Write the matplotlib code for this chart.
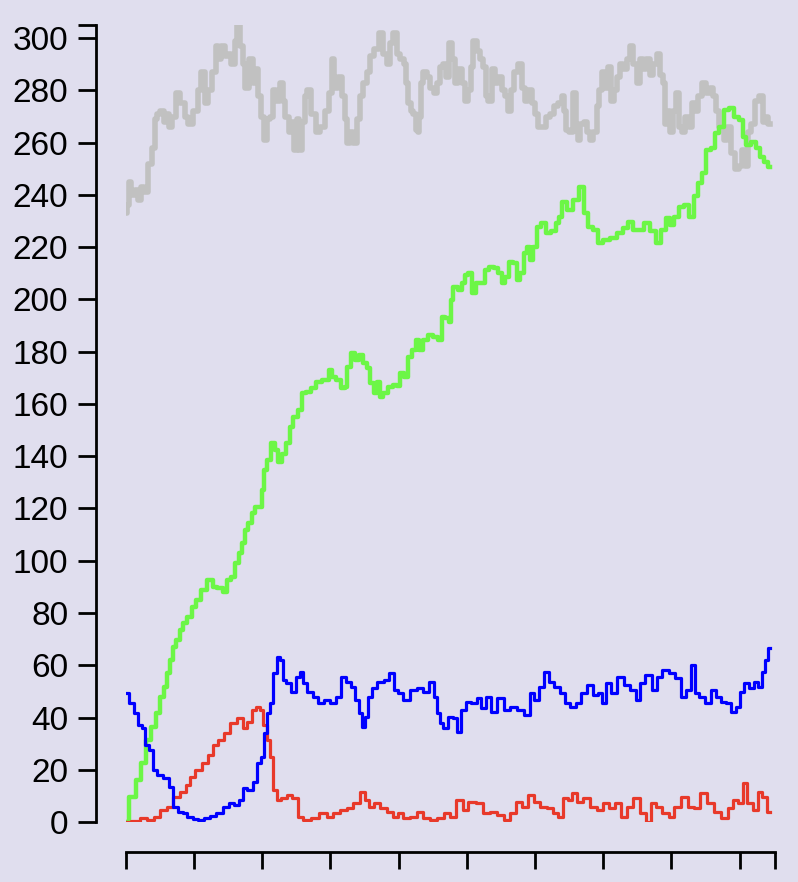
import matplotlib
matplotlib.use("Agg")
import matplotlib.pyplot as plt

# four random-walk like series, x = step, y = level
gray_x = [0, 3, 6, 11, 15, 21, 25, 30, 36, 40, 46, 47, 53, 58, 62, 66, 71, 77, 83, 90,
          94, 102, 109, 113, 119, 123, 131, 134, 138, 142, 148, 153, 157, 163, 164, 170,
          173, 178, 185, 187, 192, 197, 201, 204, 209, 214, 219, 223, 229, 231, 236, 244,
          245, 248, 253, 256, 260, 266, 267, 275, 282, 288, 295, 300, 304, 308, 314, 319,
          324, 326, 331, 336, 341, 346, 351, 356, 361, 368, 375, 380, 385, 390, 395, 400,
          405, 410, 412, 417, 419, 424, 427, 429, 432, 434, 439, 444, 449, 454, 458, 463,
          468, 471, 477, 481, 485, 490, 495, 499, 505, 507, 512, 517, 522, 527, 529, 534,
          539, 544, 549, 554, 559, 563, 567, 573, 578, 583, 588, 593, 598, 603, 607, 612,
          620, 625, 632, 637, 642, 644, 647, 652, 659, 661, 664, 669, 674, 678, 683, 688,
          693, 696, 700, 705, 709, 713, 718, 722, 727, 732, 737, 742, 747, 752, 757, 761,
          766, 771, 776, 781, 786, 789, 791, 796, 801, 805, 810, 813, 818, 823, 828, 832,
          837, 842, 849, 854, 859, 864, 867, 874, 879, 884, 891, 896, 901, 906, 911, 915,
          920, 925, 933, 935, 940, 944]
gray_y = [233, 236, 245, 240, 242, 238, 243, 241, 252, 258, 269, 271, 272, 268, 271, 266,
          270, 279, 275, 270, 267, 272, 280, 287, 275, 280, 287, 297, 292, 297, 293, 294,
          290, 299, 305, 297, 290, 281, 292, 283, 288, 278, 270, 261, 269, 270, 280, 276,
          283, 276, 270, 264, 268, 257, 269, 257, 268, 278, 280, 271, 264, 266, 272, 279,
          292, 281, 285, 278, 269, 260, 264, 260, 269, 278, 283, 287, 293, 296, 302, 294,
          290, 298, 302, 294, 292, 290, 283, 275, 272, 271, 265, 264, 270, 283, 287, 285,
          281, 279, 283, 289, 290, 285, 298, 292, 283, 288, 283, 276, 280, 289, 299, 295,
          292, 289, 278, 276, 288, 283, 285, 280, 278, 272, 280, 287, 290, 281, 276, 280,
          275, 271, 266, 266, 270, 271, 274, 275, 278, 272, 265, 264, 279, 265, 261, 267,
          268, 264, 261, 264, 274, 280, 287, 281, 289, 276, 280, 285, 290, 288, 292, 297,
          290, 283, 292, 288, 292, 286, 290, 294, 286, 283, 267, 272, 264, 272, 279, 266,
          264, 270, 266, 275, 272, 278, 283, 279, 281, 278, 272, 266, 261, 266, 256, 250,
          251, 257, 251, 264, 267, 276, 278, 268, 270, 267]

green_x = [0, 11, 19, 26, 33, 41, 48, 53, 58, 63, 67, 72, 77, 82, 87, 94, 99, 107, 114,
           124, 131, 138, 146, 150, 158, 163, 168, 172, 177, 182, 187, 192, 197, 202, 204,
           209, 216, 221, 226, 231, 238, 243, 248, 256, 260, 268, 275, 282, 295, 300, 304,
           312, 319, 324, 326, 334, 339, 346, 351, 356, 361, 366, 370, 375, 380, 388, 395,
           400, 405, 412, 417, 424, 427, 434, 439, 446, 454, 461, 466, 471, 476, 478, 483,
           490, 495, 500, 505, 510, 517, 524, 529, 537, 544, 549, 554, 559, 564, 571, 576,
           581, 586, 590, 595, 600, 605, 612, 620, 627, 634, 637, 642, 652, 661, 669, 674,
           681, 688, 696, 705, 715, 725, 732, 740, 749, 757, 764, 774, 781, 788, 796, 801,
           808, 815, 823, 830, 835, 842, 849, 854, 862, 867, 874, 881, 889, 896, 903, 906,
           913, 920, 928, 933, 940, 944]
green_y = [0, 9.6, 16, 22.6, 31.4, 36.4, 41.7, 47.9, 51.7, 57, 62, 67, 69.7, 73.5, 76,
           78.5, 82.3, 85, 88.8, 92.6, 90, 89.6, 88, 92.6, 93.8, 99, 103, 106.8, 111.8,
           114.5, 118.3, 120.6, 120.6, 127, 134.7, 138.6, 145, 142.4, 137.9, 141, 145, 151,
           155, 157.7, 164, 164.6, 166, 168.5, 169, 173, 170.4, 169, 166, 166.5, 174,
           179.5, 177, 178.8, 175.7, 173.8, 168, 164.2, 168.4, 162.7, 164, 166.5, 167.3,
           167, 171.9, 170.4, 178, 180.7, 184.5, 180.7, 184.5, 186.4, 185.7, 184.5, 193.3,
           193, 191.4, 199.8, 204.8, 203.6, 206.3, 209.4, 210.2, 202.5, 206.3, 206.3,
           211.3, 212.5, 212, 210, 206.3, 208.6, 214.4, 214, 207.5, 210, 217.8, 220, 215,
           220, 227.8, 229.3, 225.5, 226, 229.3, 231.7, 237.4, 234.4, 238.2, 243, 233,
           227.8, 226.6, 221.6, 222.8, 223.5, 225.5, 227.4, 229.7, 226.6, 226.6, 229.3,
           226.2, 221.6, 226.6, 231.2, 228.5, 231.7, 235.5, 236.3, 231.7, 239.4, 244.6,
           248.4, 257.2, 258, 263.7, 266, 272.5, 273.3, 270, 268.7, 262.2, 259, 260.3, 258,
           254.6, 252.7, 250.7]

blue_x = [0, 9, 16, 21, 26, 31, 38, 43, 50, 60, 67, 72, 80, 87, 94, 102, 111, 119, 128,
          138, 148, 155, 163, 170, 175, 182, 190, 194, 202, 204, 209, 214, 219, 224, 229,
          231, 238, 246, 253, 258, 263, 270, 278, 287, 295, 304, 312, 319, 326, 334, 339,
          344, 348, 353, 358, 363, 373, 383, 390, 397, 402, 412, 422, 432, 441, 449, 454,
          458, 463, 468, 476, 483, 489, 495, 502, 512, 517, 524, 532, 539, 549, 559, 568,
          578, 590, 595, 603, 610, 617, 625, 632, 642, 647, 656, 664, 671, 681, 688, 696,
          700, 708, 715, 725, 735, 744, 752, 757, 766, 776, 783, 791, 801, 810, 818, 825,
          832, 837, 845, 854, 862, 869, 876, 884, 891, 898, 903, 911, 918, 925, 930, 935,
          940, 944]
blue_y = [49.4, 45.5, 41.7, 37, 36, 29.5, 27.6, 20, 18, 16.8, 13.4, 5.7, 3.8, 3.4, 1.9,
          1.1, 0.8, 1.5, 2.3, 3.4, 5.7, 7.2, 6.5, 8.4, 13, 12.2, 15.3, 22.6, 25, 34, 41.7,
          45.5, 57, 63.2, 62, 54.4, 53.2, 49.8, 55.5, 57.4, 53.2, 49.8, 47.9, 45.5, 46.7,
          45.5, 47.9, 55.5, 53.6, 51.7, 46.7, 41.7, 36.4, 40.2, 47.9, 51.3, 53.6, 54.4, 57,
          50.5, 49.4, 46.7, 50.5, 51.3, 49.8, 53.6, 47.9, 41.7, 37.9, 36, 40.2, 39.8, 34.5,
          42.9, 46, 45.5, 47.5, 43.6, 47.9, 42.1, 47.5, 42.9, 44, 42.9, 41, 49.4, 46.7,
          51.7, 57.4, 53.6, 51.7, 49.4, 45.5, 44, 45.5, 49.4, 52.4, 48.6, 49.4, 45.5, 53.2,
          49.4, 55.5, 52.4, 50.5, 46.7, 53.2, 56.3, 50.5, 55.5, 58.2, 57, 55.1, 47.9, 50.5,
          60.1, 49.4, 47.9, 45.5, 50.5, 47.9, 46, 45.5, 42.1, 44, 49.8, 53.2, 51.3, 53.6,
          51.7, 57.4, 62, 66.6]

red_x = [0, 16, 26, 36, 46, 55, 65, 75, 85, 92, 97, 107, 116, 124, 131, 141, 148, 158,
         168, 175, 182, 187, 194, 199, 204, 209, 214, 219, 224, 231, 241, 248, 256, 265,
         278, 290, 300, 309, 319, 329, 339, 348, 353, 361, 368, 378, 388, 397, 402, 412,
         422, 432, 441, 451, 461, 471, 480, 490, 498, 507, 520, 529, 539, 549, 559, 568,
         576, 586, 595, 603, 612, 622, 630, 639, 644, 652, 656, 666, 676, 686, 696, 703,
         713, 722, 730, 740, 749, 759, 766, 774, 781, 791, 801, 808, 820, 828, 837, 847,
         857, 867, 879, 886, 894, 901, 908, 915, 923, 930, 937, 944]
red_y = [0, 0.4, 1.5, 0.8, 2, 4.6, 5.7, 9.6, 11.5, 14.2, 17.2, 19.9, 22.6, 25.6, 29.5,
         31.4, 34, 37.9, 39.8, 36, 38.3, 42.9, 44, 42.9, 37.1, 31.4, 25, 12.2, 8.4, 9.2,
         10.3, 9.2, 1.9, 0.8, 1.5, 3.4, 1.9, 3.4, 4.6, 5.4, 7.2, 11.5, 8.4, 5.7, 7.2, 5.4,
         3.8, 1.9, 3.4, 1.5, 1.9, 3.8, 1.5, 0.8, 1.5, 3.4, 1.9, 8.4, 4.6, 7.7, 7.2, 3.4,
         3.8, 2.7, 0.8, 3.4, 7.7, 5.7, 10.3, 7.7, 5.7, 5.4, 3.4, 1.9, 9.2, 8.4, 11.1, 7.7,
         9.2, 5.7, 4.6, 7.2, 5.4, 7.2, 1.9, 5.7, 9.2, 3.4, 0, 7.2, 5.7, 3.4, 1.9, 5.7,
         9.6, 5.7, 5.4, 11.1, 7.2, 3.8, 1.5, 5.4, 8.4, 7.2, 14.9, 7.2, 4.6, 11.5, 9.6, 3.8]

x_ticks = [0, 100, 200, 300, 400, 500, 600, 700, 800, 900, 952]
y_ticks = list(range(0, 301, 20))
x_max = 952
y_max = 305

bg = "#e0deee"
plt.rcParams["font.family"] = ["Liberation Sans", "DejaVu Sans"]

fig = plt.figure(figsize=(7.98, 8.82), dpi=100, facecolor=bg)
ax = fig.add_axes([0.1575, 0.068, 0.8137, 0.9036])
ax.set_facecolor(bg)

# steppy look like the original random walks
ax.plot(gray_x, gray_y, color="#c1c1c1", lw=4.0, drawstyle="steps-mid")
ax.plot(green_x, green_y, color="#6cf646", lw=3.2, drawstyle="steps-mid")
ax.plot(red_x, red_y, color="#e8392a", lw=2.3, drawstyle="steps-mid")
ax.plot(blue_x, blue_y, color="#0000ff", lw=2.3, drawstyle="steps-mid")

ax.set_xlim(0, x_max)
ax.set_ylim(0, y_max)
for s in ["top", "right"]:
    ax.spines[s].set_visible(False)
ax.spines["left"].set_position(("outward", 21.4))
ax.spines["bottom"].set_position(("outward", 21.6))
ax.spines["left"].set_bounds(0, y_max)
ax.spines["bottom"].set_bounds(0, x_max)
for s in ["left", "bottom"]:
    ax.spines[s].set_linewidth(2.0)

ax.set_xticks(x_ticks)
ax.set_xticklabels([])
ax.set_yticks(y_ticks + [y_max])
ax.set_yticklabels([str(v) for v in y_ticks] + [""])
ax.tick_params(axis="y", length=13, width=2.0, labelsize=24, pad=7)
ax.tick_params(axis="x", length=12, width=2.0)

fig.savefig("out.png", dpi=100, facecolor=bg)
